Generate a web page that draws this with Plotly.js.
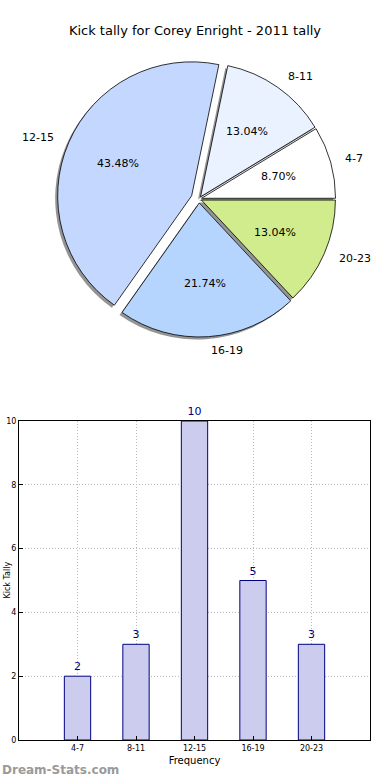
<!DOCTYPE html>
<html>
<head>
<meta charset="utf-8">
<script src="https://cdn.plot.ly/plotly-3.0.1.min.js"></script>
<style>html,body{margin:0;padding:0;background:#fff}#chart{width:390px;height:780px}</style>
</head>
<body>
<div id="chart"></div>
<script>
const categories = ["4-7", "8-11", "12-15", "16-19", "20-23"];
const tally = [2, 3, 10, 5, 3];
const sliceColors = ["#ffffff", "#ebf2ff", "#c4d8ff", "#b5d5ff", "#d0ec8c"];
const pulls = [0.02, 0.02, 0.06, 0.03, 0.02];
const yTicks = [0, 2, 4, 6, 8, 10];

const FONT = "DejaVu Sans, Liberation Sans, sans-serif";
const W = 390, H = 780;
const pcx = 199, pcy = 199, half = 142;
const px = (v) => v / W, py = (v) => 1 - v / H;

const total = tally.reduce((a, b) => a + b, 0);
const maxPull = Math.max(...pulls);
// first slice starts at 3 o'clock and runs counterclockwise
const rot = 90 - 360 * tally[0] / total;

const common = {type: "pie", values: tally, labels: categories, sort: false,
  direction: "counterclockwise", rotation: rot, pull: pulls, showlegend: false,
  textinfo: "none", hoverinfo: "skip"};

const shadowOff = 2.5;
const shadow = Object.assign({}, common, {
  marker: {colors: categories.map(() => "rgba(60,60,60,0.55)"), line: {width: 0}},
  domain: {x: [px(pcx - half - shadowOff), px(pcx + half - shadowOff)],
           y: [py(pcy + half + shadowOff), py(pcy - half + shadowOff)]}
});
const dom = {x: [px(pcx - half), px(pcx + half)], y: [py(pcy + half), py(pcy - half)]};
const pie = Object.assign({}, common, {
  marker: {colors: sliceColors, line: {color: "#000", width: 0.8}},
  domain: dom
});
// invisible helper axes centred on the pie, in units of the pie radius
const k = 1.3;
const lim = (1 + maxPull) * k;
const hdom = {x: [px(pcx - half * k), px(pcx + half * k)], y: [py(pcy + half * k), py(pcy - half * k)]};
const helper = {type: "scatter", x: [], y: [], xaxis: "x2", yaxis: "y2",
  showlegend: false, hoverinfo: "skip"};
const bars = {
  type: "bar", x: categories, y: tally, width: 0.45,
  marker: {color: "#ccccee", line: {color: "#000080", width: 1}},
  text: tally.map(String), textposition: "outside", cliponaxis: false,
  textfont: {family: FONT, size: 11, color: "#000080"},
  xaxis: "x", yaxis: "y", showlegend: false
};

// pie texts placed like matplotlib: percent at 0.6 r, label at 1.1 r
const pieAnn = [];
let cum = 0;
tally.forEach((v, i) => {
  const mid = 2 * Math.PI * (cum + v / 2) / total;
  cum += v;
  const c = Math.cos(mid), s = Math.sin(mid);
  const pctText = (100 * v / total).toFixed(2) + "%";
  pieAnn.push({xref: "x2", yref: "y2", x: (0.6 + pulls[i]) * c, y: (0.6 + pulls[i]) * s,
    text: pctText, showarrow: false, xanchor: "center", yanchor: "middle",
    font: {family: FONT, size: 11, color: "#000"}});
  pieAnn.push({xref: "x2", yref: "y2", x: (1.1 + pulls[i]) * c, y: (1.1 + pulls[i]) * s,
    text: categories[i], showarrow: false, xanchor: c > 0 ? "left" : "right", yanchor: "middle",
    font: {family: FONT, size: 11, color: "#000"}});
});

const gridStyle = {showgrid: true, gridcolor: "#b8b8b8", griddash: "1px,2px", gridwidth: 1};
const layout = {
  width: W, height: H, margin: {l: 0, r: 0, t: 0, b: 0},
  paper_bgcolor: "#fff", plot_bgcolor: "rgba(0,0,0,0)",
  font: {family: FONT, color: "#000"},
  title: {text: "Kick tally for Corey Enright - 2011 tally", x: 0.5, xanchor: "center",
          y: 1 - 30 / H, yanchor: "middle", font: {family: FONT, size: 13, color: "#000"}},
  xaxis: Object.assign({domain: [px(19), px(370)], anchor: "y", type: "category", range: [-1, 5],
          showline: true, mirror: true, linecolor: "#000", linewidth: 1,
          ticks: "inside", ticklen: 4, tickcolor: "#000",
          tickfont: {family: FONT, size: 8, color: "#000"}, zeroline: false,
          title: {text: "Frequency", font: {family: FONT, size: 10, color: "#000"}, standoff: 5}}, gridStyle),
  yaxis: Object.assign({domain: [py(740), py(421)], anchor: "x", range: [0, 10], tickvals: yTicks,
          showline: true, mirror: true, linecolor: "#000", linewidth: 1,
          ticks: "inside", ticklen: 4, tickcolor: "#000",
          tickfont: {family: FONT, size: 8, color: "#000"}, zeroline: false}, gridStyle),
  xaxis2: {domain: hdom.x, anchor: "y2", range: [-lim, lim], visible: false, fixedrange: true},
  yaxis2: {domain: hdom.y, anchor: "x2", range: [-lim, lim], visible: false, fixedrange: true},
  annotations: pieAnn.concat([
    {text: "Kick Tally", xref: "paper", yref: "paper", x: px(0), y: py(580),
     xanchor: "left", yanchor: "middle", textangle: -90, showarrow: false,
     font: {family: FONT, size: 8, color: "#000"}},
    {text: "<b>Dream-Stats.com</b>", xref: "paper", yref: "paper", x: 0, y: py(770),
     xanchor: "left", yanchor: "middle", showarrow: false,
     font: {family: FONT, size: 12, color: "#9a9a9a"}}
  ])
};

Plotly.newPlot("chart", [shadow, pie, helper, bars], layout, {displayModeBar: false, staticPlot: true});
</script>
</body>
</html>
